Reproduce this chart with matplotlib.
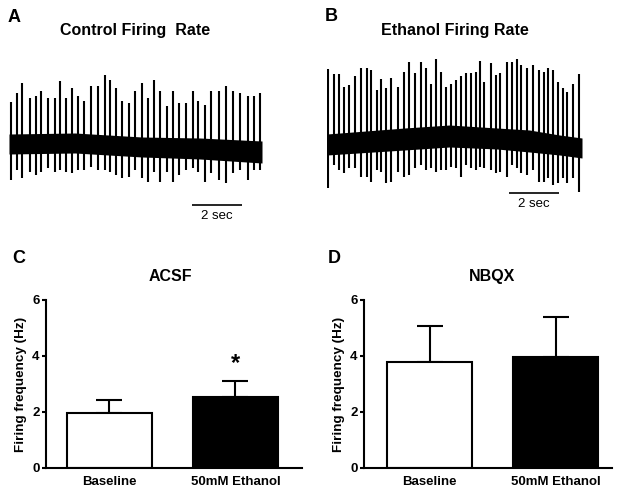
import matplotlib
matplotlib.use('Agg')
import matplotlib.pyplot as plt

plt.rcParams['font.family'] = ['Liberation Sans', 'DejaVu Sans']

# ---------------- Panel A: control recording (time in s, amplitude in a.u.)
ctrl_spike_t = [0.07, 0.31, 0.53, 0.84, 1.07, 1.28, 1.57, 1.84, 2.04, 2.28,
                2.51, 2.75, 3.01, 3.28, 3.56, 3.85, 4.05, 4.29, 4.52, 4.79,
                5.05, 5.32, 5.55, 5.81, 6.05, 6.32, 6.55, 6.81, 7.07, 7.36,
                7.56, 7.83, 8.09, 8.40, 8.69, 8.97, 9.23, 9.56, 9.80, 10.04]
ctrl_spike_peak = [43, 52, 62, 47, 49, 54, 47, 47, 64, 47,
                   57, 49, 44, 59, 59, 70, 65, 57, 44, 42,
                   54, 62, 47, 65, 54, 39, 54, 42, 42, 54,
                   44, 40, 54, 54, 59, 54, 52, 49, 49, 52]
ctrl_spike_trough = [-35, -25, -33, -27, -30, -27, -23, -27, -25, -27,
                     -28, -25, -25, -22, -25, -25, -27, -30, -33, -32,
                     -25, -33, -37, -27, -37, -27, -37, -30, -25, -23,
                     -27, -37, -28, -35, -38, -28, -25, -35, -25, -25]
ctrl_band_t = [0.0, 2.64, 5.32, 7.64, 10.12]
ctrl_band_hi = [11, 12, 8, 7, 4]
ctrl_band_lo = [-9, -8, -12, -14, -18]

# ---------------- Panel B: ethanol recording
etoh_spike_t = [0.04, 0.27, 0.47, 0.69, 0.87, 1.11, 1.36, 1.60, 1.77, 2.00,
                2.17, 2.37, 2.57, 2.84, 3.07, 3.28, 3.51, 3.77, 3.97, 4.17,
                4.35, 4.55, 4.77, 4.95, 5.17, 5.35, 5.55, 5.76, 5.95, 6.11,
                6.28, 6.55, 6.77, 6.92, 7.20, 7.39, 7.59, 7.76, 8.00, 8.25,
                8.47, 8.67, 8.85, 9.05, 9.25, 9.43, 9.60, 9.83, 10.09]
etoh_spike_peak = [71, 66, 66, 53, 55, 64, 72, 72, 70, 50,
                   61, 52, 62, 53, 68, 78, 67, 78, 72, 56,
                   81, 68, 53, 56, 60, 64, 67, 67, 68, 79,
                   58, 77, 65, 67, 78, 78, 81, 75, 72, 75,
                   70, 68, 72, 70, 58, 52, 48, 56, 66]
etoh_spike_trough = [-48, -25, -30, -33, -28, -28, -37, -37, -42, -30,
                     -32, -43, -42, -32, -37, -35, -28, -25, -30, -28,
                     -32, -30, -30, -27, -28, -37, -25, -28, -30, -27,
                     -28, -30, -33, -32, -37, -25, -28, -33, -35, -30,
                     -42, -42, -38, -45, -43, -38, -43, -38, -52]
etoh_band_t = [0.0, 3.1, 4.9, 6.8, 8.1, 9.3, 10.2]
etoh_band_hi = [6, 12, 15, 12, 10, 5, 2]
etoh_band_lo = [-15, -10, -7, -9, -12, -15, -18]

# ---------------- Panels C, D: firing frequency (Hz)
conditions = ['Baseline', '50mM Ethanol']
acsf_mean = [1.97, 2.55]
acsf_sem = [0.46, 0.57]
nbqx_mean = [3.77, 3.98]
nbqx_sem = [1.31, 1.42]

W, H = 620, 492
fig = plt.figure(figsize=(W / 100, H / 100), dpi=100)


def fx(px):
    return px / W


def fy(py):
    return 1 - py / H


def trace_axes(left_px, top_px, bottom_px, ylim, t, peak, trough, bt, bhi, blo,
               bar_t0, bar_v, txt_v):
    ax = fig.add_axes([fx(left_px), fy(bottom_px), 255 / W, (bottom_px - top_px) / H])
    ax.set_xlim(0, 10.2)
    ax.set_ylim(*ylim)
    ax.axis('off')
    ax.fill_between(bt, blo, bhi, color='black', lw=0)
    ax.vlines(t, trough, peak, color='black', lw=1.5)
    ax.plot([bar_t0, bar_t0 + 2], [bar_v, bar_v], color='black', lw=1.2,
            solid_capstyle='butt', clip_on=False)
    ax.text(bar_t0 + 1, txt_v, '2 sec', ha='center', va='center', fontsize=9.5,
            clip_on=False)
    return ax


trace_axes(9, 65, 220, (-75, 80), ctrl_spike_t, ctrl_spike_peak, ctrl_spike_trough,
           ctrl_band_t, ctrl_band_hi, ctrl_band_lo, 7.32, -60, -71)
trace_axes(327, 55, 215, (-75, 85), etoh_spike_t, etoh_spike_peak, etoh_spike_trough,
           etoh_band_t, etoh_band_hi, etoh_band_lo, 7.28, -53, -64)


def bar_axes(left_px, right_px, xlim, means, sems, star=False):
    ax = fig.add_axes([fx(left_px), fy(468), (right_px - left_px) / W, 168 / H])
    x = [0, 1]
    ax.bar(x, means, width=0.675, color=['white', 'black'], edgecolor='black',
           linewidth=1.5, zorder=2)
    ax.errorbar(x, means, yerr=[[0, 0], sems], fmt='none', ecolor='black',
                elinewidth=1.5, capsize=9.5, capthick=1.5, zorder=1)
    ax.set_xlim(*xlim)
    ax.set_ylim(0, 6)
    ax.set_yticks([0, 2, 4, 6])
    ax.set_xticks(x)
    ax.set_xticklabels(conditions, fontweight='bold', fontsize=9.5)
    for lab in ax.get_yticklabels():
        lab.set_fontweight('bold')
        lab.set_fontsize(9.5)
    ax.tick_params(axis='x', length=0, pad=6)
    ax.tick_params(axis='y', length=3, width=1.5, pad=1.5, direction='out')
    for s in ['top', 'right']:
        ax.spines[s].set_visible(False)
    for s in ['left', 'bottom']:
        ax.spines[s].set_linewidth(1.5)
    ax.set_ylabel('Firing frequency (Hz)', fontweight='bold', fontsize=9.7, labelpad=4)
    if star:
        ax.text(1, means[1] + sems[1] + 0.6, '*', ha='center', va='center',
                fontsize=17, fontweight='bold')
    return ax


bar_axes(46, 302, (-0.504, 1.528), acsf_mean, acsf_sem, star=True)
bar_axes(364, 612, (-0.52, 1.448), nbqx_mean, nbqx_sem)

# titles and panel letters
fig.text(fx(134.7), fy(35), 'Control Firing  Rate', ha='center', va='baseline',
         fontsize=11.5, fontweight='bold')
fig.text(fx(454.5), fy(35), 'Ethanol Firing Rate', ha='center', va='baseline',
         fontsize=11.5, fontweight='bold')
fig.text(fx(170.8), fy(281), 'ACSF', ha='center', va='baseline',
         fontsize=11.5, fontweight='bold')
fig.text(fx(492), fy(281), 'NBQX', ha='center', va='baseline',
         fontsize=11.5, fontweight='bold')
for letter, px, py in [('A', 8, 22), ('B', 325, 21), ('C', 12, 263), ('D', 328, 263)]:
    fig.text(fx(px), fy(py), letter, ha='left', va='baseline', fontsize=13,
             fontweight='bold')

fig.savefig('out.png', dpi=100)
